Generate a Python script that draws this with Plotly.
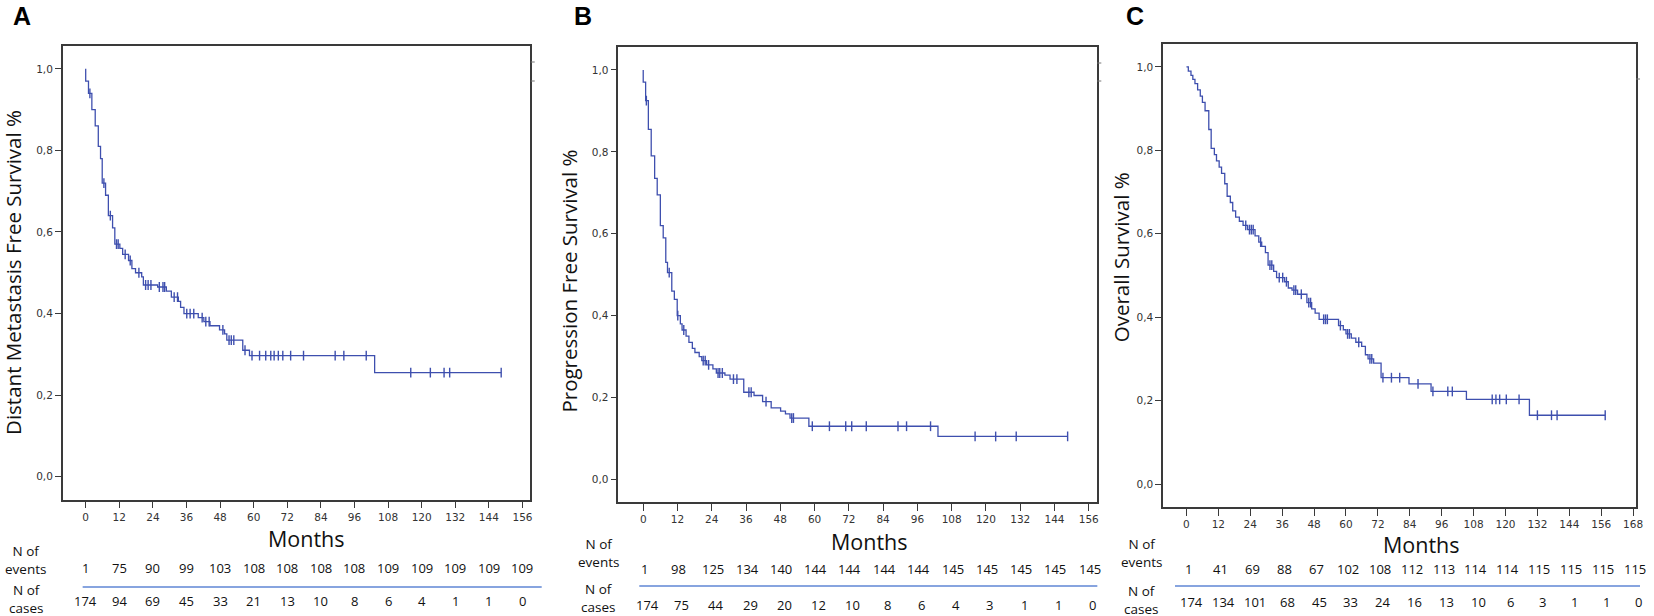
import numpy as np
import plotly.graph_objects as go

# ---------------- DATA ----------------
# Panel A: Distant Metastasis Free Survival
a_event_months = [0.0, 1.0, 2.2, 3.4, 4.5, 5.3, 5.9, 7.1, 8.1, 9.6, 10.4, 12.2, 13.2, 15.3, 16.5, 17.8,
                  20.0, 20.6, 25.7, 28.8, 30.6, 33.1, 33.9, 35.1, 40.2, 42.2, 44.4, 47.8, 49.6, 50.4,
                  56.1, 58.5, 103.2]
a_event_surv = [0.97, 0.94, 0.90, 0.86, 0.81, 0.78, 0.72, 0.69, 0.64, 0.61, 0.57, 0.56, 0.545, 0.53,
                0.51, 0.50, 0.49, 0.47, 0.465, 0.455, 0.44, 0.43, 0.415, 0.40, 0.39, 0.38, 0.37, 0.36,
                0.35, 0.335, 0.31, 0.297, 0.255]
a_censor_months = [1.5, 6.5, 8.8, 11.0, 11.6, 14.1, 15.9, 19.0, 21.4, 22.3, 23.3, 26.3, 27.6, 28.2,
                   31.6, 32.8, 36.1, 37.3, 38.6, 41.6, 42.9, 44.1, 49.0, 51.2, 52.0, 52.9, 56.9, 59.4,
                   62.1, 64.3, 66.1, 67.3, 68.8, 70.4, 73.2, 77.8, 89.1, 92.2, 100.2, 116.1, 123.1,
                   128.0, 130.0, 148.4]
a_ticks = [0, 12, 24, 36, 48, 60, 72, 84, 96, 108, 120, 132, 144, 156]
a_events = [1, 75, 90, 99, 103, 108, 108, 108, 108, 109, 109, 109, 109, 109]
a_cases = [174, 94, 69, 45, 33, 21, 13, 10, 8, 6, 4, 1, 1, 0]

# Panel B: Progression Free Survival
b_event_months = [0.0, 0.84, 1.8, 2.8, 4.0, 4.9, 6.0, 7.0, 7.9, 8.5, 10.0, 10.9, 11.9, 13.0, 13.6,
                  15.0, 16.0, 17.2, 18.1, 19.6, 20.5, 22.2, 24.4, 25.6, 28.6, 30.4, 35.2, 38.8, 41.8,
                  44.8, 48.1, 49.8, 51.4, 58.0, 103.2]
b_event_surv = [0.97, 0.925, 0.855, 0.79, 0.735, 0.695, 0.62, 0.59, 0.53, 0.505, 0.46, 0.44, 0.40,
                0.38, 0.365, 0.35, 0.335, 0.32, 0.31, 0.30, 0.29, 0.28, 0.27, 0.26, 0.255, 0.245,
                0.213, 0.205, 0.19, 0.175, 0.167, 0.16, 0.15, 0.13, 0.105]
b_censor_months = [1.1, 9.1, 12.1, 14.2, 21.0, 21.7, 22.9, 26.2, 26.8, 27.7, 31.6, 32.8, 37.0, 37.8,
                   43.0, 52.0, 52.6, 59.2, 65.2, 70.9, 73.0, 78.1, 89.2, 92.2, 100.6, 116.2, 123.4,
                   130.6, 148.6]
b_ticks = [0, 12, 24, 36, 48, 60, 72, 84, 96, 108, 120, 132, 144, 156]
b_events = [1, 98, 125, 134, 140, 144, 144, 144, 144, 145, 145, 145, 145, 145]
b_cases = [174, 75, 44, 29, 20, 12, 10, 8, 6, 4, 3, 1, 1, 0]

# Panel C: Overall Survival
c_event_months = [0.7, 1.7, 2.4, 3.2, 4.2, 5.2, 6.0, 7.0, 8.4, 9.3, 10.5, 11.3, 12.3, 13.2, 14.4,
                  15.3, 16.5, 17.4, 18.5, 19.9, 21.3, 23.0, 25.8, 27.2, 28.3, 29.7, 30.7, 32.8, 33.9,
                  36.9, 38.3, 39.7, 41.8, 45.3, 47.1, 48.4, 49.9, 57.2, 59.0, 60.0, 62.0, 63.7, 65.9,
                  67.3, 68.3, 70.4, 73.2, 83.7, 92.0, 105.3, 129.0]
c_event_surv = [0.99, 0.98, 0.97, 0.96, 0.945, 0.93, 0.915, 0.895, 0.85, 0.805, 0.79, 0.775, 0.76,
                0.745, 0.72, 0.69, 0.675, 0.655, 0.64, 0.63, 0.62, 0.61, 0.595, 0.58, 0.57, 0.555,
                0.525, 0.51, 0.495, 0.485, 0.47, 0.465, 0.455, 0.435, 0.42, 0.41, 0.395, 0.38, 0.37,
                0.36, 0.35, 0.34, 0.33, 0.31, 0.30, 0.29, 0.255, 0.24, 0.222, 0.203, 0.165]
c_censor_months = [22.3, 23.7, 24.4, 25.1, 27.9, 31.4, 32.1, 34.9, 36.2, 37.6, 40.4, 41.1, 43.2,
                   46.0, 46.7, 51.6, 52.3, 53.0, 57.9, 60.6, 61.3, 64.8, 69.0, 69.7, 73.9, 77.1,
                   80.2, 87.1, 92.7, 98.3, 100.0, 115.0, 116.4, 117.8, 120.3, 125.1, 132.0, 137.3,
                   139.4, 157.5]
c_ticks = [0, 12, 24, 36, 48, 60, 72, 84, 96, 108, 120, 132, 144, 156, 168]
c_events = [1, 41, 69, 88, 67, 102, 108, 112, 113, 114, 114, 115, 115, 115, 115]
c_cases = [174, 134, 101, 68, 45, 33, 24, 16, 13, 10, 6, 3, 1, 1, 0]

y_ticks = [0.0, 0.2, 0.4, 0.6, 0.8, 1.0]
y_titles = ["Distant Metastasis Free Survival %", "Progression Free Survival %", "Overall Survival %"]
panel_letters = ["A", "B", "C"]
x_title = "Months"

# ---------------- LAYOUT (pixel geometry) ----------------
W, H = 1654, 616
def px(x): return x / W
def py(y): return 1 - y / H

panels = [
    dict(ev_t=a_event_months, ev_s=a_event_surv, cen=a_censor_months, ticks=a_ticks,
         events=a_events, cases=a_cases,
         box=(63, 46, 532, 499.5), xr=[-8.2, 158.6], yr=[-0.056, 1.056],
         letter_xy=(22, 16), ytitle_xy=(13, 272), xtitle_xy=(308, 538),
         lab_x=26, ev_y=560, cs_y=598.5, evrow_y=568, csrow_y=601, ev_shift=0, cs_shift=0,
         sep=(83, 544, 587), marks=[(533, 537, 62), (533, 537, 81)]),
    dict(ev_t=b_event_months, ev_s=b_event_surv, cen=b_censor_months, ticks=b_ticks,
         events=b_events, cases=b_cases,
         box=(621, 47, 1102, 502), xr=[-8.7, 159.0], yr=[-0.055, 1.056],
         letter_xy=(585, 16), ytitle_xy=(571, 281), xtitle_xy=(873, 541),
         lab_x=601, ev_y=553, cs_y=597.5, evrow_y=568.5, csrow_y=605, ev_shift=1, cs_shift=4,
         sep=(642, 1102, 586), marks=[(1102, 1106, 63), (1102, 1106, 81)]),
    dict(ev_t=c_event_months, ev_s=c_event_surv, cen=c_censor_months, ticks=c_ticks,
         events=c_events, cases=c_cases,
         box=(1168, 44, 1643, 507), xr=[-8.8, 169.1], yr=[-0.055, 1.055],
         letter_xy=(1140, 16), ytitle_xy=(1126, 257), xtitle_xy=(1428, 544),
         lab_x=1146, ev_y=553, cs_y=600, evrow_y=568.6, csrow_y=602, ev_shift=2, cs_shift=5,
         sep=(1180, 1647, 586), marks=[(1643, 1647, 79)]),
]

CURVE = "#3e4fae"
AXC = "#3a3a3a"
TITLE_FONT = "Open Sans"
TICK_FONT = "DejaVu Sans"

fig = go.Figure()
annotations = []
shapes = []

for i, p in enumerate(panels):
    n = "" if i == 0 else str(i + 1)
    xa, ya = "x" + n, "y" + n
    ev_t = np.array(p["ev_t"], dtype=float)
    ev_s = np.array(p["ev_s"], dtype=float)
    cen = np.array(p["cen"], dtype=float)
    end_t = float(cen.max())
    lx = np.concatenate([[0.0], ev_t, [end_t]])
    ly = np.concatenate([[1.0], ev_s, [ev_s[-1]]])
    fig.add_trace(go.Scatter(x=lx, y=ly, mode="lines", line=dict(color=CURVE, width=1.3, shape="hv"),
                             xaxis=xa, yaxis=ya, showlegend=False, hoverinfo="skip"))
    idx = np.searchsorted(ev_t, cen, side="right") - 1
    cy = np.where(idx >= 0, ev_s[np.clip(idx, 0, None)], 1.0)
    fig.add_trace(go.Scatter(x=cen, y=cy, mode="markers",
                             marker=dict(symbol="line-ns-open", size=7, color=CURVE,
                                         line=dict(color=CURVE, width=1.4)),
                             xaxis=xa, yaxis=ya, showlegend=False, hoverinfo="skip"))

    x0, y0, x1, y1 = p["box"]
    axis_common = dict(showline=True, mirror=True, linecolor=AXC, linewidth=1.6,
                       ticks="outside", tickcolor=AXC, tickwidth=1.3, showgrid=False,
                       zeroline=False, tickfont=dict(family=TICK_FONT, size=10.5, color="#333"))
    fig.layout["xaxis" + n] = dict(domain=[px(x0), px(x1)], range=p["xr"], anchor=ya,
                                   tickvals=p["ticks"], ticklen=7, **axis_common)
    fig.layout["yaxis" + n] = dict(domain=[py(y1), py(y0)], range=p["yr"], anchor=xa,
                                   tickvals=y_ticks, tickformat=".1f", ticklen=6, **axis_common)

    # panel letter
    lx_, ly_ = p["letter_xy"]
    annotations.append(dict(text="<b>%s</b>" % panel_letters[i], x=px(lx_), y=py(ly_), xref="paper",
                            yref="paper", showarrow=False, xanchor="center", yanchor="middle",
                            font=dict(family="Liberation Sans", size=25, color="black")))
    # y title
    tx, ty = p["ytitle_xy"]
    annotations.append(dict(text=y_titles[i], x=px(tx), y=py(ty), xref="paper", yref="paper",
                            showarrow=False, textangle=-90, xanchor="center", yanchor="middle",
                            font=dict(family=TITLE_FONT, size=20.5, color="#111")))
    # x title
    mx, my = p["xtitle_xy"]
    annotations.append(dict(text=x_title, x=px(mx), y=py(my), xref="paper", yref="paper",
                            showarrow=False, xanchor="center", yanchor="middle",
                            font=dict(family=TITLE_FONT, size=21.5, color="#111")))
    # risk table labels
    annotations.append(dict(text="N of<br>events", x=px(p["lab_x"]), y=py(p["ev_y"]), xref="paper",
                            yref="paper", showarrow=False, xanchor="center", yanchor="middle",
                            font=dict(family=TITLE_FONT, size=13.5, color="#111")))
    annotations.append(dict(text="N of<br>cases", x=px(p["lab_x"]), y=py(p["cs_y"]), xref="paper",
                            yref="paper", showarrow=False, xanchor="center", yanchor="middle",
                            font=dict(family=TITLE_FONT, size=13.5, color="#111")))
    for t, ev, cs in zip(p["ticks"], p["events"], p["cases"]):
        annotations.append(dict(text=str(ev), x=t, xref=xa, y=py(p["evrow_y"]), yref="paper",
                                showarrow=False, xanchor="center", yanchor="middle",
                                xshift=p["ev_shift"],
                                font=dict(family=TITLE_FONT, size=13, color="#111")))
        annotations.append(dict(text=str(cs), x=t, xref=xa, y=py(p["csrow_y"]), yref="paper",
                                showarrow=False, xanchor="center", yanchor="middle",
                                xshift=p["cs_shift"],
                                font=dict(family=TITLE_FONT, size=13, color="#111")))
    # separator line in risk table
    sx0, sx1, sy = p["sep"]
    shapes.append(dict(type="line", xref="paper", yref="paper", x0=px(sx0), x1=px(sx1),
                       y0=py(sy), y1=py(sy), line=dict(color="#5f86d4", width=1.6)))
    for (mx0, mx1, my_) in p["marks"]:
        shapes.append(dict(type="line", xref="paper", yref="paper", x0=px(mx0), x1=px(mx1),
                           y0=py(my_), y1=py(my_), line=dict(color="#777", width=1)))

fig.update_layout(width=W, height=H, margin=dict(l=0, r=0, t=0, b=0),
                  paper_bgcolor="white", plot_bgcolor="white", separators=",.",
                  annotations=annotations, shapes=shapes, showlegend=False)

fig.write_html("out.html", config={"displayModeBar": False},
               post_script="document.body.style.margin='0';document.body.style.overflow='hidden';")
